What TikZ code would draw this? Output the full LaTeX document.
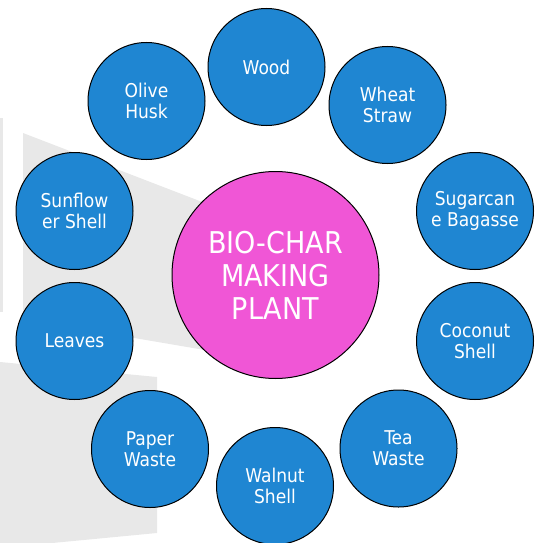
\documentclass[tikz,border=0pt]{standalone}
\usepackage{fontspec}
\usepackage{tikz}
\newfontfamily\labelfont{DejaVu Sans Condensed}
\definecolor{feedblue}{RGB}{31,134,210}
\definecolor{plantpink}{RGB}{240,86,214}
\definecolor{backgrey}{RGB}{232,232,232}

\begin{document}
\begin{tikzpicture}[x=1pt,y=-1pt,
  feed/.style={circle, draw=black, line width=1pt, fill=feedblue, text=white,
    minimum size=117pt, inner sep=0pt, align=center,
    font=\labelfont\fontsize{19}{21}\selectfont},
  plant/.style={circle, draw=black, line width=1pt, fill=plantpink, text=white,
    minimum size=207pt, inner sep=0pt, align=center,
    font=\labelfont\fontsize{30}{33}\selectfont}]
\useasboundingbox (0,0) rectangle (538,543);
% background panels
\fill [backgrey] (0,118) rectangle (3,312);
\fill [backgrey] (23,133) -- (275,230) -- (275,362) -- (23,319) -- cycle;
\fill [backgrey] (0,362) -- (157,377) -- (157,533) -- (0,548) -- cycle;
% centre
\node [plant] (plant) at (275.5,275) {BIO-CHAR\\MAKING\\PLANT};
% feedstocks
\node [feed] (wood) at (266.5,67) {Wood};
\node [feed] (wheat) at (387.5,105) {Wheat\\Straw};
\node [feed] (sugar) at (475,211) {Sugarcan\\e Bagasse};
\node [feed] (coconut) at (475,341) {Coconut\\Shell};
\node [feed] (tea) at (398.5,448.5) {Tea\\Waste};
\node [feed] (walnut) at (275,486) {Walnut\\Shell};
\node [feed] (paper) at (150,449) {Paper\\Waste};
\node [feed] (leaves) at (74.5,341) {Leaves};
\node [feed] (sunflower) at (74.5,211) {Sunflow\\er Shell};
\node [feed] (olive) at (146.5,101) {Olive\\Husk};
\end{tikzpicture}
\end{document}
